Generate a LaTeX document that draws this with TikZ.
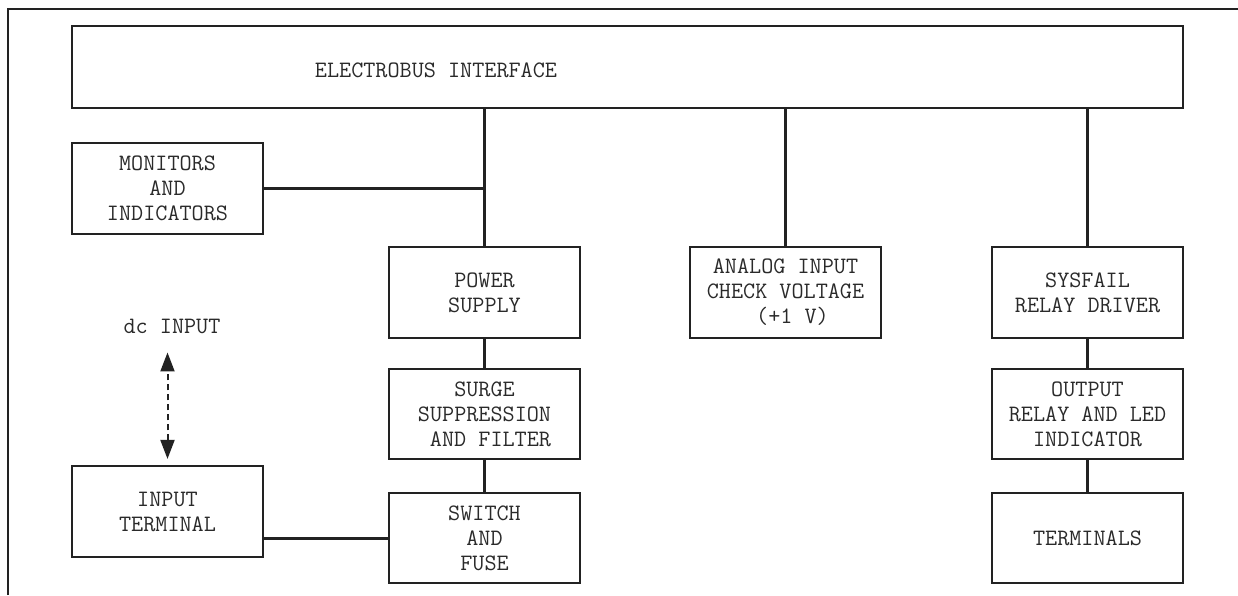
\documentclass[tikz,border=0pt]{standalone}
\usepackage{fontspec}
\usetikzlibrary{arrows.meta}
\definecolor{ink}{HTML}{222222}
\definecolor{txt}{HTML}{2a2a2a}
\tikzset{
  blk/.style={draw=ink, line width=2.2pt, minimum width=191pt, minimum height=91pt,
    inner sep=0pt, align=center, text=txt, font=\ttfamily\fontsize{23.5}{25}\selectfont},
  lbl/.style={inner sep=0pt, text=txt, font=\ttfamily\fontsize{23.5}{25}\selectfont},
  wire/.style={draw=ink, line width=3pt},
  dcarrow/.style={draw=ink, line width=2pt, dash pattern=on 6pt off 4pt,
    {Triangle[length=19pt,width=14pt]}-{Triangle[length=19pt,width=14pt]}},
}
\begin{document}
\begin{tikzpicture}[x=1pt,y=-1pt]
\useasboundingbox (0,0) rectangle (1238,595);
% outer frame
\draw[ink, line width=2pt] (8,595) -- (8,9) -- (1238,9);
% bus
\node[blk, minimum width=1111pt, minimum height=82pt] (elec) at (627.5,67) {};
\node[lbl] (eltext) at (436,70) {ELECTROBUS INTERFACE};
% boxes
\node[blk] (mon) at (167.5,188.5) {MONITORS\\AND\\INDICATORS};
\node[blk] (power) at (484.5,292.5) {POWER\\SUPPLY};
\node[blk, minimum height=90pt] (surge) at (484.5,414) {SURGE\\SUPPRESSION\\\hspace*{12pt}AND FILTER};
\node[blk, minimum height=90pt] (switch) at (484.5,538) {SWITCH\\AND\\FUSE};
\node[blk] (analog) at (785.5,292.5) {ANALOG INPUT\\CHECK VOLTAGE\\\hspace*{14pt}(+1 V)};
\node[blk] (sysfail) at (1087.5,292.5) {SYSFAIL\\RELAY DRIVER};
\node[blk, minimum height=90pt] (output) at (1087.5,414) {OUTPUT\\RELAY AND LED\\INDICATOR};
\node[blk, minimum height=90pt] (term) at (1087.5,538) {TERMINALS};
\node[blk] (input) at (167.5,511.5) {INPUT\\TERMINAL};
\node[lbl, anchor=base] (dc) at (172,333) {dc INPUT};
% connectors
\draw[wire] (power.north) -- (power.north |- elec.south);
\draw[wire] (mon.east) -- (mon.east -| power.north);
\draw[wire] (analog.north) -- (analog.north |- elec.south);
\draw[wire] (sysfail.north) -- (sysfail.north |- elec.south);
\draw[wire] (power.south) -- (surge.north);
\draw[wire] (surge.south) -- (switch.north);
\draw[wire] (sysfail.south) -- (output.north);
\draw[wire] (output.south) -- (term.north);
\draw[wire] (switch.west) -- (switch.west -| input.east);
\draw[dcarrow] ([yshift=6pt]input.north) -- ([yshift=-19pt]input.north |- dc.south);
\end{tikzpicture}
\end{document}
